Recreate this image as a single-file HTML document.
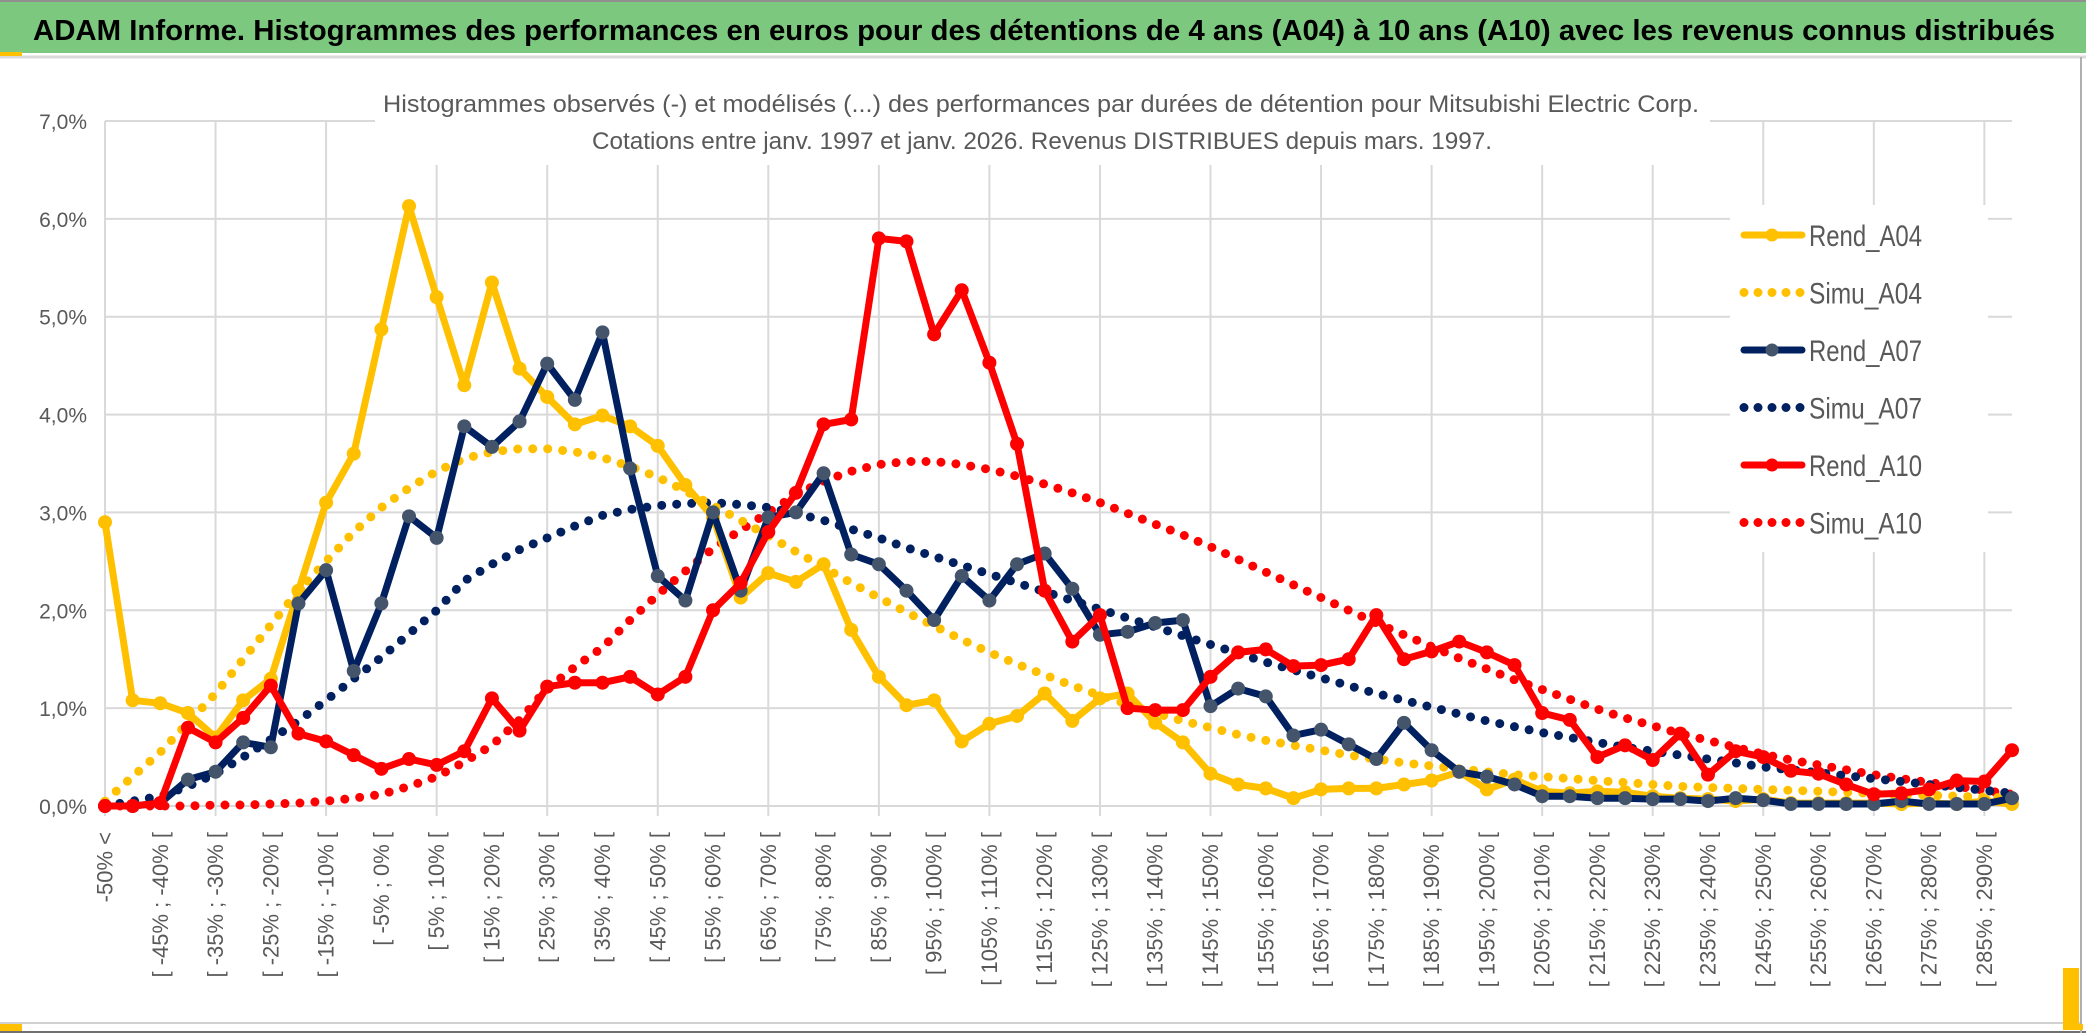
<!DOCTYPE html>
<html><head><meta charset="utf-8">
<style>
html,body{margin:0;padding:0;background:#fff;}
body{width:2086px;height:1033px;overflow:hidden;position:relative;font-family:"Liberation Sans",sans-serif;}
svg{position:absolute;left:0;top:0;}
</style></head>
<body>
<svg id="chart" width="2086" height="1033" viewBox="0 0 2086 1033" xmlns="http://www.w3.org/2000/svg">
  <rect x="0" y="0" width="2086" height="1033" fill="#fff"/>
  <rect x="0" y="2" width="2086" height="51" fill="#7DC87F"/>
  <line x1="0" y1="1" x2="2086" y2="1" stroke="#909090" stroke-width="2"/>
  <line x1="0" y1="57" x2="2086" y2="57" stroke="#d9d9d9" stroke-width="3"/>
  <rect x="0" y="52" width="22" height="4" fill="#FFC000"/>
  <text x="33" y="40" font-size="29" font-weight="bold" fill="#000" textLength="2022" lengthAdjust="spacingAndGlyphs">ADAM Informe. Histogrammes des performances en euros pour des détentions de 4 ans (A04) à 10 ans (A10) avec les revenus connus distribués</text>
  <g id="grid"></g>
  <rect x="375" y="110" width="1335" height="55" fill="#fff"/>
  <text x="1041" y="112" font-size="24" fill="#595959" text-anchor="middle" textLength="1316" lengthAdjust="spacingAndGlyphs">Histogrammes observés (-) et modélisés (...) des performances par durées de détention pour Mitsubishi Electric Corp.</text>
  <text x="1042" y="149" font-size="24" fill="#595959" text-anchor="middle" textLength="900" lengthAdjust="spacingAndGlyphs">Cotations entre janv. 1997 et janv. 2026. Revenus DISTRIBUES depuis mars. 1997.</text>
  <g id="yaxis"></g>
  <g id="xaxis"></g>
  <g id="series"></g>
  <g id="legend"></g>
  <line x1="0" y1="1023" x2="2081" y2="1023" stroke="#d0d0d0" stroke-width="2"/>
  <line x1="0" y1="1032" x2="2086" y2="1032" stroke="#707070" stroke-width="2"/>
  <line x1="2081" y1="57" x2="2081" y2="1033" stroke="#b0b0b0" stroke-width="2"/>
  <rect x="0" y="1024" width="22" height="7" fill="#FFC000"/>
  <rect x="2063" y="968" width="16" height="62" fill="#FFC000"/>
  <rect x="2063" y="1024" width="20" height="6" fill="#FFC000"/>
</svg>
<script>
const yTicks = [0,1,2,3,4,5,6,7];
const yTickLabels = ["0,0%","1,0%","2,0%","3,0%","4,0%","5,0%","6,0%","7,0%"];
const seriesNames = ["Rend_A04","Simu_A04","Rend_A07","Simu_A07","Rend_A10","Simu_A10"];
const rendA04 = [2.9,1.08,1.05,0.95,0.7,1.08,1.3,2.2,3.1,3.6,4.87,6.13,5.2,4.3,5.35,4.47,4.18,3.9,3.99,3.88,3.68,3.28,2.95,2.13,2.38,2.29,2.47,1.8,1.32,1.03,1.08,0.66,0.84,0.92,1.15,0.87,1.1,1.15,0.85,0.65,0.33,0.22,0.18,0.08,0.17,0.18,0.18,0.22,0.26,0.35,0.17,0.27,0.15,0.13,0.15,0.14,0.1,0.08,0.07,0.05,0.07,0.03,0.03,0.03,0.03,0.02,0.03,0.02,0.05,0.02];
const simuA04 = [0.05,0.3,0.55,0.85,1.15,1.5,1.85,2.2,2.5,2.8,3.05,3.25,3.42,3.55,3.62,3.65,3.65,3.62,3.56,3.47,3.36,3.22,3.07,2.92,2.76,2.6,2.44,2.28,2.13,1.98,1.84,1.7,1.57,1.45,1.34,1.23,1.13,1.04,0.95,0.87,0.8,0.73,0.67,0.62,0.57,0.52,0.48,0.44,0.41,0.38,0.35,0.32,0.3,0.28,0.26,0.24,0.22,0.2,0.19,0.18,0.17,0.16,0.15,0.14,0.13,0.12,0.11,0.1,0.09,0.08];
const rendA07 = [0,0,0.03,0.27,0.35,0.65,0.6,2.07,2.41,1.38,2.07,2.96,2.74,3.88,3.67,3.93,4.52,4.15,4.84,3.45,2.35,2.1,3.0,2.2,2.95,3.0,3.4,2.57,2.47,2.2,1.9,2.35,2.1,2.47,2.58,2.22,1.75,1.78,1.87,1.9,1.02,1.2,1.12,0.72,0.78,0.63,0.48,0.85,0.57,0.35,0.3,0.22,0.1,0.1,0.08,0.08,0.07,0.07,0.05,0.08,0.06,0.02,0.02,0.02,0.02,0.05,0.02,0.02,0.02,0.08];
const simuA07 = [0,0.05,0.1,0.2,0.33,0.5,0.68,0.87,1.08,1.3,1.52,1.76,2.0,2.3,2.47,2.62,2.74,2.86,2.97,3.03,3.07,3.09,3.1,3.08,3.05,2.99,2.92,2.83,2.74,2.64,2.55,2.46,2.37,2.28,2.19,2.1,2.01,1.92,1.83,1.74,1.65,1.56,1.47,1.39,1.31,1.23,1.15,1.08,1.01,0.94,0.87,0.81,0.75,0.7,0.65,0.6,0.56,0.52,0.48,0.44,0.4,0.37,0.34,0.31,0.28,0.25,0.22,0.19,0.16,0.13];
const rendA10 = [0,0,0.03,0.8,0.65,0.9,1.23,0.74,0.66,0.52,0.38,0.48,0.42,0.56,1.1,0.77,1.22,1.26,1.26,1.32,1.14,1.32,2.0,2.28,2.8,3.2,3.9,3.95,5.8,5.77,4.82,5.27,4.53,3.7,2.2,1.68,1.95,1.0,0.98,0.98,1.32,1.57,1.6,1.43,1.44,1.5,1.95,1.5,1.58,1.68,1.57,1.44,0.95,0.88,0.5,0.62,0.47,0.74,0.32,0.56,0.5,0.36,0.33,0.22,0.12,0.13,0.17,0.26,0.25,0.57];
const simuA10 = [0,0,0,0,0.01,0.01,0.02,0.03,0.05,0.08,0.12,0.2,0.3,0.45,0.62,0.88,1.2,1.42,1.62,1.9,2.16,2.4,2.63,2.82,3.0,3.18,3.32,3.42,3.49,3.52,3.52,3.49,3.44,3.37,3.29,3.2,3.1,2.99,2.88,2.77,2.65,2.52,2.39,2.26,2.13,2.0,1.87,1.75,1.63,1.51,1.4,1.29,1.19,1.09,0.99,0.9,0.82,0.74,0.67,0.6,0.53,0.47,0.42,0.37,0.32,0.28,0.24,0.2,0.16,0.12];
const labelLows = [-45,-35,-25,-15,-5,5,15,25,35,45,55,65,75,85,95,105,115,125,135,145,155,165,175,185,195,205,215,225,235,245,255,265,275,285];

const NS = "http://www.w3.org/2000/svg";
const X0 = 105, X1 = 2012, Y0 = 806, YTOP = 121;
const N = rendA04.length;
function xs(i){ return X0 + i*(X1-X0)/(N-1); }
function ys(v){ return Y0 - v*(Y0-YTOP)/7; }
function mk(tag, attrs, parent){ const e=document.createElementNS(NS,tag); for(const k in attrs) e.setAttribute(k,attrs[k]); parent.appendChild(e); return e; }

const grid = document.getElementById('grid');
yTicks.forEach(t=>{
  const l = mk('line',{x1:X0,x2:X1,y1:ys(t),y2:ys(t),stroke:'#d9d9d9','stroke-width':2},grid);
  
  
});
for(let i=0;i<N;i+=4){
  const l = mk('line',{x1:xs(i),x2:xs(i),y1:YTOP,y2:Y0+10,stroke:'#d9d9d9','stroke-width':2},grid);
  
  
}
const ya = document.getElementById('yaxis');
yTicks.forEach((t,k)=>{
  const tx = mk('text',{x:87,y:ys(t)+8,'font-size':21,fill:'#595959','text-anchor':'end'},ya);
  tx.textContent = yTickLabels[k];
  
  
});
const xa = document.getElementById('xaxis');
function xlab(i, str){
  const x = xs(i), y = 832;
  const tx = mk('text',{x:x,y:y,'font-size':22,fill:'#595959','text-anchor':'end','dominant-baseline':'central',transform:`rotate(-90 ${x} ${y})`},xa);
  tx.textContent = str;
  
  
}
xlab(0, "-50% <");
labelLows.forEach((lo,k)=>{ xlab(2+2*k, `[ ${lo}% ; ${lo+5}% [`); });

const sg = document.getElementById('series');
function ptsOf(arr){ return arr.map((v,i)=>xs(i).toFixed(1)+','+ys(v).toFixed(1)).join(' '); }
function dotted(arr,color,name){
  const p = mk('polyline',{points:ptsOf(arr),fill:'none',stroke:color,'stroke-width':9,'stroke-linecap':'round','stroke-dasharray':'0 15'},sg);
  
  
}
function solid(arr,color,mcolor,name){
  const p = mk('polyline',{points:ptsOf(arr),fill:'none',stroke:color,'stroke-width':7,'stroke-linejoin':'round'},sg);
  
  
  arr.forEach((v,i)=>{
    const c = mk('circle',{cx:xs(i),cy:ys(v),r:7,fill:mcolor},sg);
    
    
  });
}
dotted(simuA10,'#FF0000','simu-a10-line');
dotted(simuA07,'#002060','simu-a07-line');
dotted(simuA04,'#FFC000','simu-a04-line');
solid(rendA04,'#FFC000','#FFC000','rend-a04-line');
solid(rendA07,'#002060','#44546A','rend-a07-line');
solid(rendA10,'#FF0000','#FF0000','rend-a10-line');

const lg = document.getElementById('legend');
const bg = mk('rect',{x:1730,y:205,width:258,height:347,fill:'#fff'},lg);


const legColors = ['#FFC000','#FFC000','#002060','#002060','#FF0000','#FF0000'];
const legMarkers = ['#FFC000',null,'#44546A',null,'#FF0000',null];
seriesNames.forEach((nm,k)=>{
  const y = 235 + k*57.5;
  const g = mk('g',{},lg);
  
  
  if(legMarkers[k]){
    mk('line',{x1:1744,x2:1802,y1:y,y2:y,stroke:legColors[k],'stroke-width':7,'stroke-linecap':'round'},g);
    mk('circle',{cx:1772,cy:y,r:6.5,fill:legMarkers[k]},g);
  } else {
    mk('line',{x1:1744,x2:1802,y1:y,y2:y,stroke:legColors[k],'stroke-width':9,'stroke-linecap':'round','stroke-dasharray':'0 14'},g);
  }
  const t = mk('text',{x:1809,y:y+11,'font-size':30,fill:'#595959',textLength:113,lengthAdjust:'spacingAndGlyphs'},g);
  t.textContent = nm;
});
</script>
</body></html>
